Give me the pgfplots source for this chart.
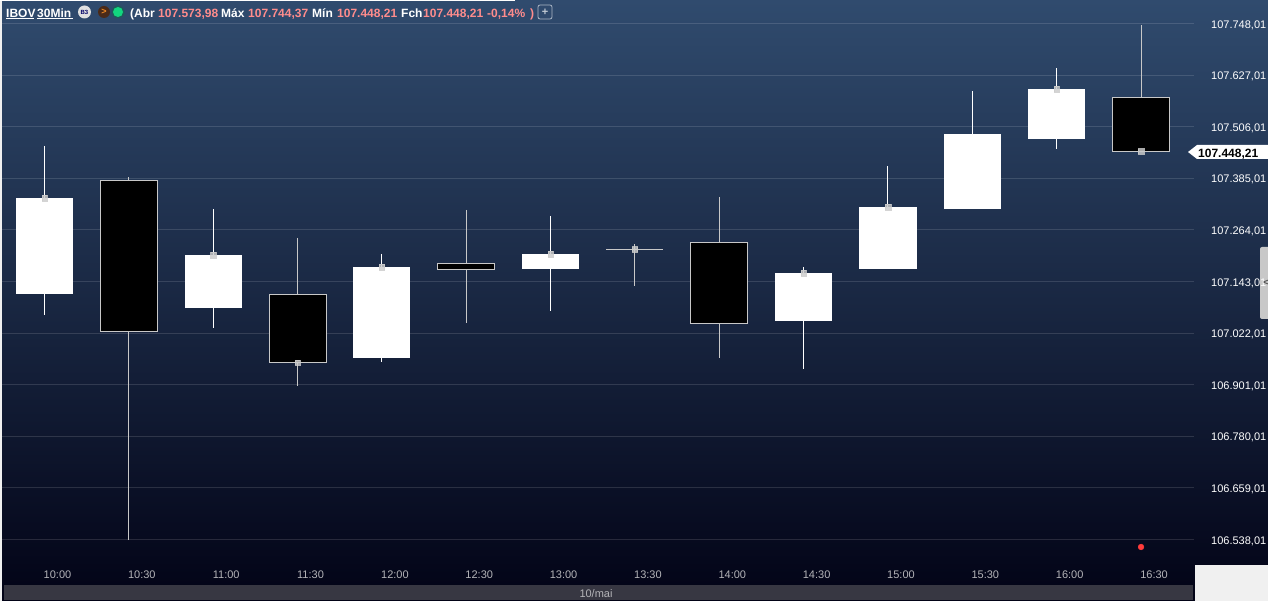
\documentclass[border=0pt]{standalone}
\usepackage{pgfplots}
\pgfplotsset{compat=1.18}
\usepackage{fontspec}
\setmainfont{Liberation Sans}
\definecolor{bgtop}{HTML}{304B6E}
\definecolor{bgbot}{HTML}{020316}
\definecolor{salmon}{HTML}{FF8C8C}
\definecolor{wickg}{HTML}{C8C8C8}
\definecolor{barg}{HTML}{373742}
\definecolor{corner}{HTML}{F0F0F0}
\definecolor{xlab}{HTML}{B4B4B8}
\definecolor{redpt}{HTML}{FF3B3B}
\definecolor{mk}{HTML}{CCCCCC}
\definecolor{greenpt}{HTML}{12D67F}
\definecolor{greenhalo}{HTML}{1F5A5A}
\definecolor{brownpt}{HTML}{4A2A18}
\definecolor{orangept}{HTML}{F08A24}
\newcommand{\candle}[8]{%
  % left, centre, right, high, top, bottom, low, kind
  \addplot[#8wick] coordinates {(#2,#4) (#2,#7)};
  \addplot[#8body] coordinates {(#1,#5) (#3,#5) (#3,#6) (#1,#6)} -- cycle;
}
\pgfplotsset{
  whitewick/.style={draw=white,line width=1pt,mark=none},
  whitebody/.style={fill=white,draw=none,mark=none},
  blackwick/.style={draw=wickg,line width=1pt,mark=none},
  blackbody/.style={fill=black,draw=wickg,line width=1pt,mark=none},
}
\begin{document}
\begin{tikzpicture}
\useasboundingbox (0pt,0pt) rectangle (1268pt,-601pt);
\begin{scope}[x=1pt,y=-1pt]
  \shade[top color=bgtop,bottom color=bgbot] (0,0) rectangle (1268,601);
  \fill[barg] (4,585) rectangle (1193,600);
  \fill[corner] (1195,565) rectangle (1268,601);
  \fill[corner] (0,0) rectangle (1.5,601);
  \fill[white] (0,0) rectangle (515,1);
  % handle, beneath the tick labels
  \fill[wickg,rounded corners=2pt] (1260,247) rectangle (1270,319);
\end{scope}
\begin{axis}[
  at={(2pt,-23.5pt)},anchor=north west,
  scale only axis,width=1192pt,height=536.5pt,
  xmin=-0.5039,xmax=13.628,
  ymin=106489.9,ymax=107748.01,
  axis line style={draw=none},
  major tick length=0pt,
  ymajorgrids,
  grid style={draw=white,draw opacity=0.13,line width=1pt},
  scaled y ticks=false,
  xtick={0,1,2,3,4,5,6,7,8,9,10,11,12,13},
  xticklabels={10:00,10:30,11:00,11:30,12:00,12:30,13:00,13:30,14:00,14:30,15:00,15:30,16:00,16:30},
  xticklabel style={anchor=center,xshift=13pt,yshift=-15pt,font=\fontsize{11pt}{11pt}\selectfont,text=xlab},
  ytick={106538.01,106659.01,106780.01,106901.01,107022.01,107143.01,107264.01,107385.01,107506.01,107627.01,107748.01},
  yticklabels={{106.538,01},{106.659,01},{106.780,01},{106.901,01},{107.022,01},{107.143,01},{107.264,01},{107.385,01},{107.506,01},{107.627,01},{107.748,01}},
  yticklabel pos=right,
  yticklabel style={anchor=west,xshift=17pt,yshift=-1.5pt,inner sep=0pt,font=\fontsize{11pt}{11pt}\selectfont,text=white},
  clip=false,
]
\candle{-0.338}{0}{0.338}{107460.75}{107338.81}{107113.71}{107064.4}{white}
\candle{0.662}{1}{1.338}{107388.0}{107381.0}{107026.9}{106536.8}{black}
\candle{1.662}{2}{2.338}{107313.0}{107205.1}{107080.8}{107034.0}{white}
\candle{2.662}{3}{3.338}{107245.0}{107111.5}{106953.0}{106899.1}{black}
\candle{3.662}{4}{4.338}{107207.5}{107177.0}{106963.6}{106954.2}{white}
\candle{4.662}{5}{5.338}{107310.7}{107184.4}{107172.3}{107045.7}{black}
\candle{5.662}{6}{6.338}{107296.6}{107207.5}{107172.3}{107073.8}{white}
\addplot[blackwick] coordinates {(7,107230.9) (7,107132.4)};
\addplot[blackwick] coordinates {(6.662,107218.5) (7.338,107218.5)};
\candle{7.662}{8}{8.338}{107341.1}{107234.9}{107044.0}{106963.6}{black}
\candle{8.662}{9}{9.338}{107177.0}{107163.0}{107050.4}{106937.8}{white}
\candle{9.662}{10}{10.338}{107413.8}{107317.7}{107172.3}{107172.3}{white}
\candle{10.662}{11}{11.338}{107589.7}{107488.9}{107313.0}{107313.0}{white}
\candle{11.662}{12}{12.338}{107643.6}{107594.4}{107477.2}{107453.7}{white}
\candle{12.662}{13}{13.338}{107744.37}{107573.98}{107448.21}{107448.21}{black}
% close markers
\addplot[only marks,mark=square*,mark size=2.7pt,mark options={draw=mk,fill=mk,line width=0.3pt,opacity=0.83}]
  coordinates {(0,107338.81) (2,107205.1) (3,106953.0) (4,107177.0) (6,107207.5) (7,107218.5) (9,107163.0) (10,107317.7) (12,107594.4) (13,107448.21)};
% red dot
\addplot[only marks,mark=*,mark size=3pt,mark options={draw=redpt,fill=redpt,line width=0.2pt}]
  coordinates {(13,106520.4)};
\end{axis}
\begin{scope}[x=1pt,y=-1pt,every node/.style={inner sep=0pt,font=\fontsize{12pt}{12pt}\selectfont\bfseries}]
  % last-price tag
  \fill[white] (1188,152) -- (1197,145) -- (1268,145) -- (1268,159) -- (1197,159) -- cycle;
  \node[anchor=mid west,text=black] at (1198,154.5) {107.448,21};
  \node[anchor=center,text=black!70,font=\fontsize{9pt}{9pt}\selectfont\bfseries] at (1266,283) {<};
  % header
  \node[anchor=mid west,text=white] at (6,14.5) {IBOV};
  \draw[white,line width=0.8pt] (6,18) -- (34,18);
  \node[anchor=mid west,text=white] at (37,14.5) {30Min};
  \draw[white,line width=0.8pt] (37,18) -- (73,18);
  \fill[white!88!black] (84.5,12) circle (6.5);
  \node[anchor=center,text=black!60!blue,font=\fontsize{6pt}{6pt}\selectfont\bfseries] at (84.5,12) {B3};
  \fill[brownpt] (104,12) circle (6);
  \node[anchor=center,text=orangept,font=\fontsize{9pt}{9pt}\selectfont\bfseries] at (104,12) {>};
  \fill[greenhalo] (118,12) circle (6.5);
  \fill[greenpt] (118,12) circle (5);
  \node[anchor=mid west,text=white] at (130,14.5) {(Abr};
  \node[anchor=mid west,text=salmon] at (158,14.5) {107.573,98};
  \node[anchor=mid west,text=white] at (221,14.5) {Máx};
  \node[anchor=mid west,text=salmon] at (248,14.5) {107.744,37};
  \node[anchor=mid west,text=white] at (312,14.5) {Mín};
  \node[anchor=mid west,text=salmon] at (337,14.5) {107.448,21};
  \node[anchor=mid west,text=white] at (401,14.5) {Fch};
  \node[anchor=mid west,text=salmon] at (423,14.5) {107.448,21};
  \node[anchor=mid west,text=salmon] at (487,14.5) {-0,14\%};
  \node[anchor=mid west,text=salmon] at (530,14.5) {)};
  \draw[white!60!bgtop,line width=0.8pt,rounded corners=2pt] (538,5) rectangle (552,19);
  \node[anchor=center,text=white!70!bgtop,font=\fontsize{11pt}{11pt}\selectfont\bfseries] at (545,12) {+};
  % date
  \node[anchor=center,text=xlab,font=\fontsize{11pt}{11pt}\selectfont] at (596,593.5) {10/mai};
\end{scope}
\end{tikzpicture}
\end{document}
